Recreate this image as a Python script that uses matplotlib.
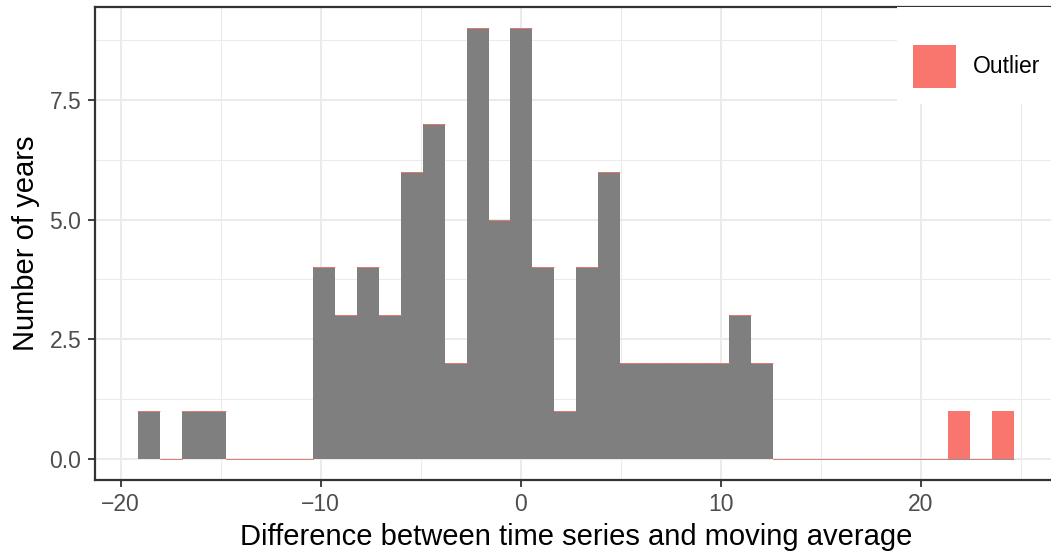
import numpy as np
import matplotlib.pyplot as plt
from matplotlib.patches import Rectangle

plt.rcParams['font.family'] = ['Liberation Sans', 'DejaVu Sans']

# histogram bins (difference between series and moving average)
bin_start = -19.12
bin_width = 1.0946
normal_counts = [1, 0, 1, 1, 0, 0, 0, 0, 4, 3, 4, 3, 6, 7, 2, 9, 5, 9, 4, 1,
                 4, 6, 2, 2, 2, 2, 2, 3, 2, 0, 0, 0, 0, 0, 0, 0, 0, 0, 0, 0]
outlier_counts = [0] * 37 + [1, 0, 1]

x_ticks = [-20, -10, 0, 10, 20]
y_ticks = [0.0, 2.5, 5.0, 7.5]

GRAY = '#7F7F7F'
SALMON = '#F8766D'

W, H = 1051, 554
fig = plt.figure(figsize=(W / 100, H / 100), dpi=100)
left, right, top, bottom = 94.5, 1057.7, 7, 480
ax = fig.add_axes([left / W, (H - bottom) / H, (right - left) / W, (bottom - top) / H])

normal = np.array(normal_counts)
outlier = np.array(outlier_counts)
lefts = bin_start + bin_width * np.arange(len(normal))

ax.bar(lefts, normal, width=bin_width, align='edge', color=GRAY, linewidth=0, zorder=2)
# empty bins still leave a hairline at their baseline
z = normal == 0
ax.hlines(np.zeros(z.sum()), lefts[z], lefts[z] + bin_width, color=GRAY, lw=0.6, zorder=2)
ax.bar(lefts, outlier, width=bin_width, bottom=normal, align='edge', color=SALMON,
       linewidth=0, zorder=3)
z = outlier == 0
ax.hlines(normal[z], lefts[z], lefts[z] + bin_width, color=SALMON, lw=0.6, zorder=3)

ax.set_xlim(-21.31, 26.85)
ax.set_ylim(-0.45, 9.45)
ax.set_xticks(x_ticks)
ax.set_xticklabels([str(t).replace('-', '\u2212') for t in x_ticks])
ax.set_yticks(y_ticks)
ax.set_yticklabels([f'{t:.1f}' for t in y_ticks])
ax.set_xticks([-15, -5, 5, 15, 25], minor=True)
ax.set_yticks([1.25, 3.75, 6.25, 8.75], minor=True)

ax.grid(which='major', color='#EBEBEB', lw=1.5, zorder=0)
ax.grid(which='minor', color='#EBEBEB', lw=0.75, zorder=0)
ax.set_axisbelow(True)
ax.tick_params(which='minor', length=0)
ax.tick_params(which='major', length=5.2, width=1.3, color='#333333',
               labelsize=16.5, labelcolor='#4D4D4D', pad=4.2)
for s in ax.spines.values():
    s.set_color('#333333')
    s.set_linewidth(1.6)

ax.set_xlabel('Difference between time series and moving average', fontsize=21, labelpad=5)
ax.set_ylabel('Number of years', fontsize=21, labelpad=7)

# legend box in the top-right corner
tf = fig.transFigure
def fx(px):
    return px / W
def fy(py):
    return 1 - py / H
fig.patches.append(Rectangle((fx(897), fy(104)), fx(W) - fx(897), fy(7) - fy(104),
                             transform=tf, facecolor='white', edgecolor='none', zorder=5))
fig.patches.append(Rectangle((fx(913), fy(88)), fx(956) - fx(913), fy(45) - fy(88),
                             transform=tf, facecolor=SALMON, edgecolor='none', zorder=6))
fig.text(fx(972.5), fy(66.5), 'Outlier', fontsize=16.5, color='black',
         va='center', ha='left', zorder=7)

fig.savefig('out.png', dpi=100)
